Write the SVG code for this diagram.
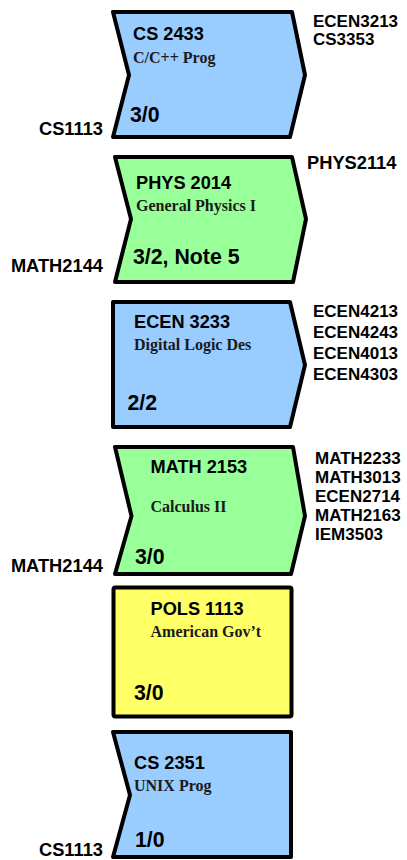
<svg xmlns="http://www.w3.org/2000/svg" width="407" height="860" viewBox="0 0 407 860">
<style>
.shape{stroke:#000;stroke-width:4;stroke-linejoin:round}
.blue{fill:#99CCFF}
.green{fill:#99FF99}
.yellow{fill:#FFFF66}
.title{font-family:"Liberation Sans",Arial,sans-serif;font-weight:bold;font-size:18.2px;fill:#000}
.sub{font-family:"Liberation Serif","Times New Roman",serif;font-weight:bold;font-size:16px;fill:#1a1a1a}
.cred{font-family:"Liberation Sans",Arial,sans-serif;font-weight:bold;font-size:21.3px;fill:#000}
.lbl{font-family:"Liberation Sans",Arial,sans-serif;font-weight:bold;font-size:17px;fill:#000}
.lbl-l{font-family:"Liberation Sans",Arial,sans-serif;font-weight:bold;font-size:18.3px;fill:#000}
</style>
<rect width="407" height="860" fill="#fff"/>
<g id="connectors"></g>
<g id="cs2433">
<polygon class="shape blue" points="113,12 292,12 305,75 290,137 113,137 129,75"/>
<text class="title" x="133" y="40">CS 2433</text>
<text class="sub" x="133" y="63">C/C++ Prog</text>
<text class="cred" x="130" y="122">3/0</text>
<text class="lbl" x="313" y="26.5">ECEN3213</text>
<text class="lbl" x="313" y="44.5">CS3353</text>
<text class="lbl-l" x="103" y="135" text-anchor="end">CS1113</text>
</g>
<g id="phys2014">
<polygon class="shape green" points="115,157 292,157 306,219 293,282 115,282 131,219"/>
<text class="title" x="136" y="188.5">PHYS 2014</text>
<text class="sub" x="136" y="211">General Physics I</text>
<text class="cred" x="133" y="263.5">3/2, Note 5</text>
<text class="lbl-l" x="307" y="168.5">PHYS2114</text>
<text class="lbl-l" x="103" y="272" text-anchor="end">MATH2144</text>
</g>
<g id="ecen3233">
<polygon class="shape blue" points="113,302 290,302 305,365 290,427 113,427"/>
<text class="title" x="134" y="328">ECEN 3233</text>
<text class="sub" x="134" y="349.5">Digital Logic Des</text>
<text class="cred" x="127.5" y="410">2/2</text>
<text class="lbl" x="313" y="317">ECEN4213</text>
<text class="lbl" x="313" y="338">ECEN4243</text>
<text class="lbl" x="313" y="359">ECEN4013</text>
<text class="lbl" x="313" y="380">ECEN4303</text>
</g>
<g id="math2153">
<polygon class="shape green" points="115,447 293,447 305,516 291,574 115,574 131.5,516"/>
<text class="title" x="150.5" y="472.5">MATH 2153</text>
<text class="sub" x="150.5" y="511.5">Calculus II</text>
<text class="cred" x="135" y="563.5">3/0</text>
<text class="lbl" x="315" y="463.5">MATH2233</text>
<text class="lbl" x="315" y="482.5">MATH3013</text>
<text class="lbl" x="315" y="501.5">ECEN2714</text>
<text class="lbl" x="315" y="521">MATH2163</text>
<text class="lbl" x="315" y="540">IEM3503</text>
<text class="lbl-l" x="103" y="572" text-anchor="end">MATH2144</text>
</g>
<g id="pols1113">
<rect class="shape yellow" x="113.5" y="587.5" width="178" height="129" rx="2"/>
<text class="title" x="150.5" y="615">POLS 1113</text>
<text class="sub" x="150.5" y="637">American Gov’t</text>
<text class="cred" x="134" y="700">3/0</text>
</g>
<g id="cs2351">
<polygon class="shape blue" points="113,732 291,732 291,857 113,857 130,795"/>
<text class="title" x="134" y="768.5">CS 2351</text>
<text class="sub" x="134" y="791">UNIX Prog</text>
<text class="cred" x="135" y="847">1/0</text>
<text class="lbl-l" x="103" y="856" text-anchor="end">CS1113</text>
</g>
</svg>
